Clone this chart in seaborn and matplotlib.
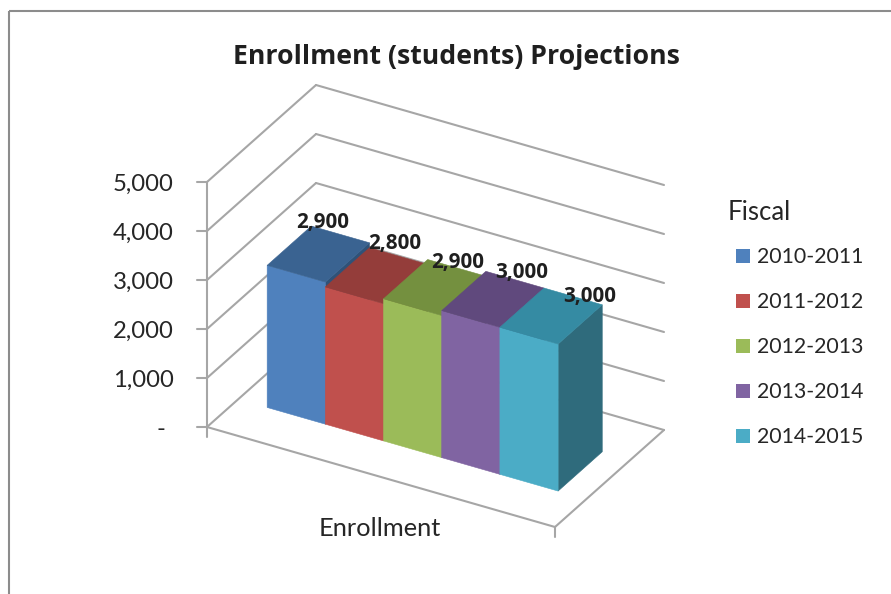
import matplotlib
matplotlib.use("Agg")
import matplotlib.pyplot as plt
from matplotlib.patches import Polygon
import seaborn as sns

# ---- data ----
series_names = ["2010-2011", "2011-2012", "2012-2013", "2013-2014", "2014-2015"]
enrollment = [2900, 2800, 2900, 3000, 3000]
value_labels = ["2,900", "2,800", "2,900", "3,000", "3,000"]
value_ticks = [0, 1000, 2000, 3000, 4000, 5000]
tick_labels = ["-", "1,000", "2,000", "3,000", "4,000", "5,000"]
category_label = "Enrollment"
title_text = "Enrollment (students) Projections"
legend_title = "Fiscal"

# ---- styles ----
front_colors = ["#4f81bd", "#c0504d", "#9bbb59", "#8064a2", "#4bacc6"]
top_colors = ["#3a6391", "#943d3a", "#74903f", "#60497d", "#358ba3"]
side_colors = ["#2f5278", "#7b3230", "#5f7633", "#4e3c67", "#2f6b7c"]
label_shift = [(4, -32), (18, -32), (23, -25), (29, -27), (39, -20)]

sns.set_theme(style="white")
plt.rcParams["font.family"] = ["Lato", "DejaVu Sans"]
BOLD = ["Open Sans", "DejaVu Sans"]

fig = plt.figure(figsize=(8.91, 5.94), dpi=100, facecolor="white")
ax = fig.add_axes([0, 0, 1, 1])
ax.set_xlim(0, 891)
ax.set_ylim(594, 0)
ax.axis("off")

# Oblique projection of (position along category, depth, value) to the canvas
ORIGIN = (207, 427)
X_VEC = (348, 100)
D_VEC = (109, -97)
V_SCALE = 245 / 5000


def proj(x, d, v):
    return (ORIGIN[0] + x * X_VEC[0] + d * D_VEC[0],
            ORIGIN[1] + x * X_VEC[1] + d * D_VEC[1] - v * V_SCALE)


wall = dict(color="#a6a6a6", lw=1.5, solid_capstyle="round", zorder=1)
vmax = value_ticks[-1]


def line(p, q, **kw):
    ax.plot([p[0], q[0]], [p[1], q[1]], **kw)


for v in value_ticks:
    line(proj(0, 0, v), proj(0, 1, v), **wall)
    line(proj(0, 1, v), proj(1, 1, v), **wall)
    p = proj(0, 0, v)
    line((p[0] - 10, p[1]), p, **wall)
line(proj(0, 0, 0), proj(0, 0, vmax), **wall)
line(proj(0, 0, 0), proj(1, 0, 0), **wall)
line(proj(1, 0, 0), proj(1, 1, 0), **wall)
p = proj(0, 0, 0)
line(p, (p[0], p[1] + 10), **wall)
p = proj(1, 0, 0)
line(p, (p[0], p[1] + 10), **wall)

for v, t in zip(value_ticks, tick_labels):
    p = proj(0, 0, v)
    ax.text(p[0] - 33 if v else p[0] - 42, p[1] + 2, t, ha="right", va="center",
            fontsize=17.2, color="#262626")

# bars
X0, DX = 0.083, 0.1672
D0, DD = 0.287, 0.405
for i, (val, fc, tc, sc) in enumerate(zip(enrollment, front_colors, top_colors, side_colors)):
    x1, x2 = X0 + i * DX, X0 + (i + 1) * DX
    ax.add_patch(Polygon([proj(x2, D0, 0), proj(x2, D0 + DD, 0),
                          proj(x2, D0 + DD, val), proj(x2, D0, val)],
                         fc=sc, ec=sc, lw=0.4, zorder=3 + i))
    ax.add_patch(Polygon([proj(x1, D0, 0), proj(x2, D0, 0), proj(x2, D0, val), proj(x1, D0, val)],
                         fc=fc, ec=fc, lw=0.4, zorder=3 + i))
    ax.add_patch(Polygon([proj(x1, D0, val), proj(x2, D0, val),
                          proj(x2, D0 + DD, val), proj(x1, D0 + DD, val)],
                         fc=tc, ec=tc, lw=0.4, zorder=3 + i))

# value labels, placed from the centre of each bar's top face
for i, (val, lab, (sx, sy)) in enumerate(zip(enrollment, value_labels, label_shift)):
    p = proj(X0 + (i + 0.5) * DX, D0 + DD / 2, val)
    ax.text(p[0] + sx, p[1] + sy, lab, ha="center", va="center", fontsize=14.9,
            family=BOLD, fontweight="bold", color="#1f1f1f", zorder=20)

ax.text(456, 57, title_text, ha="center", va="center", fontsize=19.2,
        family=BOLD, fontweight="bold", color="#1f1f1f")
ax.text(379.5, 529, category_label, ha="center", va="center", fontsize=18.3, color="#262626")

# legend
ax.text(728, 212, legend_title, ha="left", va="center", fontsize=18.5, color="#262626")
for i, (name, c) in enumerate(zip(series_names, front_colors)):
    y = 256 + i * 45
    ax.add_patch(plt.Rectangle((736, y - 7), 14, 14, fc=c, ec="none", zorder=3))
    ax.text(757, y + 1, name, ha="left", va="center", fontsize=15.3, color="#262626")

# chart border
border = dict(color="#8c8c8c", lw=1.5, solid_capstyle="butt")
ax.plot([9, 9], [594, 11], **border)
ax.plot([9, 891], [11, 11], **border)

fig.savefig("out.png", dpi=100)
